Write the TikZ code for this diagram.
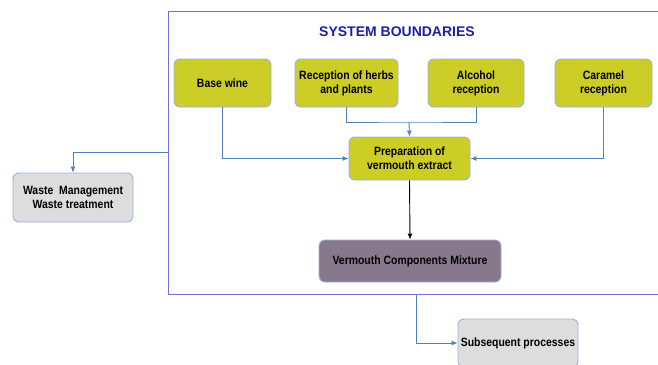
\documentclass[tikz,border=0pt]{standalone}
\usepackage{fontspec}
\setmainfont{Liberation Sans}
\newfontfamily\boxfont[FakeStretch=0.87]{Liberation Sans}
\usetikzlibrary{arrows.meta}
\definecolor{yel}{RGB}{205,205,40}
\definecolor{mixc}{RGB}{136,120,140}
\definecolor{greyc}{RGB}{221,221,221}
\definecolor{edgec}{RGB}{150,180,212}
\definecolor{conn}{RGB}{80,128,190}
\definecolor{bound}{RGB}{112,112,220}
\definecolor{titlec}{RGB}{30,30,170}
\tikzset{
  box/.style={draw=edgec, line width=0.9pt, rounded corners=6pt, align=center,
    font=\boxfont\fontsize{12}{14}\selectfont\bfseries, inner sep=2pt},
  ybox/.style={box, fill=yel},
  gbox/.style={box, fill=greyc},
  mbox/.style={box, fill=mixc},
  link/.style={draw=conn, line width=0.9pt},
  arr/.style={link, -{Latex[length=6pt,width=5pt]}},
}
\begin{document}
\begin{tikzpicture}[x=1pt,y=-1pt]
\useasboundingbox (0,0) rectangle (658,364);
\clip (0,0) rectangle (658,364);
\node[draw=bound, line width=1.1pt, minimum width=560, minimum height=283, inner sep=0, anchor=north west] (sys) at (168,11) {};
\node[font=\fontsize{14}{16}\selectfont\bfseries, text=titlec] (title) at (397,32) {SYSTEM BOUNDARIES};
\node[ybox, minimum width=97, minimum height=48] (base) at (222.5,83) {Base wine};
\node[ybox, minimum width=103, minimum height=48] (herbs) at (346.5,83) {Reception of herbs\\and plants};
\node[ybox, minimum width=96, minimum height=48] (alc) at (476,83) {Alcohol\\reception};
\node[ybox, minimum width=97, minimum height=48] (car) at (603.5,83) {Caramel\\reception};
\node[ybox, minimum width=121, minimum height=43] (prep) at (409.5,158.5) {Preparation of\\vermouth extract};
\node[mbox, minimum width=182, minimum height=42] (vmix) at (410,261) {Vermouth Components Mixture};
\node[gbox, minimum width=120, minimum height=49] (waste) at (73,197.5) {Waste\ \ Management\\Waste treatment};
\node[gbox, minimum width=120, minimum height=48] (subs) at (518,343) {Subsequent processes};
\coordinate (join) at (409,122);
\coordinate (wl) at (168,152);
\coordinate (sb) at (416,294);
\draw[arr] (base.south) |- (prep.west);
\draw[arr] (car.south) |- (prep.east);
\draw[link] (herbs.south) |- (join) -| (alc.south);
\draw[arr] (join) -- (prep.north);
\draw[black, line width=0.9pt, -{Latex[length=6pt,width=5pt]}] (prep.south) -- (vmix.north);
\draw[arr] (wl) -| (waste.north);
\draw[arr] (sb) |- (subs.west);
\end{tikzpicture}
\end{document}
